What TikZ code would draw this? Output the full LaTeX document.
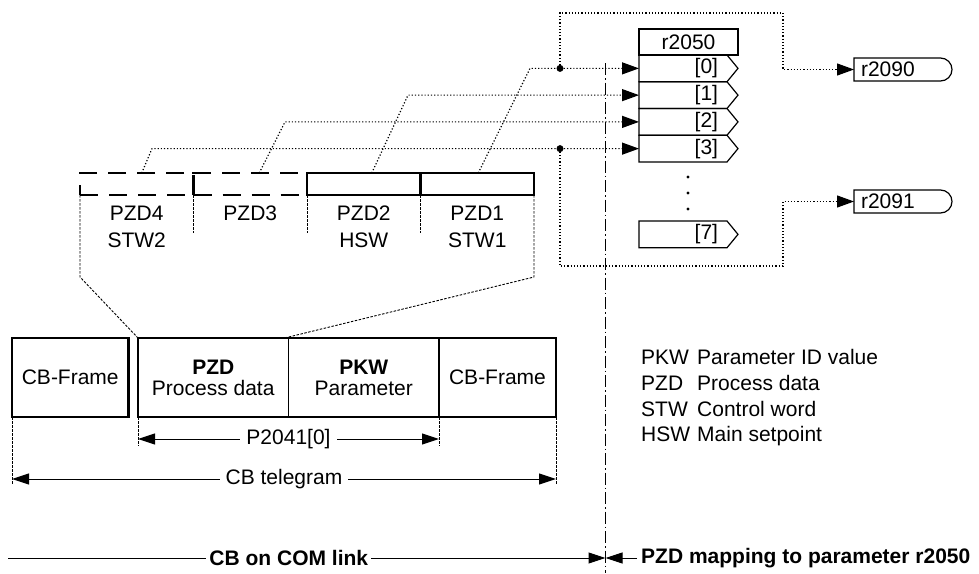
\documentclass[tikz,border=0pt]{standalone}
\usepackage{fontspec}
\setmainfont{Liberation Sans}
\usetikzlibrary{arrows.meta,calc}

\newcommand{\figfont}{\fontsize{21}{24}\selectfont}

\tikzset{
  wordbox/.style={draw,line width=2.4pt,minimum width=113.5,minimum height=22,inner sep=0,outer sep=0,anchor=north west},
  dashword/.style={wordbox,dash pattern=on 18pt off 11pt},
  cellbox/.style={draw,line width=1pt,minimum height=79,inner sep=0,outer sep=0,anchor=north west,align=center},
  rowbox/.style={minimum width=88,minimum height=26.75,inner sep=0,outer sep=0,text width=70,align=right,anchor=north west},
  outbox/.style={minimum height=23,inner xsep=7pt,inner ysep=0,outer sep=0,text width=84,align=left,anchor=west},
  route/.style={line width=1.2pt,dash pattern=on 1.2pt off 2pt},
  guide/.style={line width=0.9pt,dash pattern=on 2.5pt off 1.5pt},
  centreline/.style={line width=1pt,dash pattern=on 12pt off 3pt on 1.5pt off 3pt},
  bigtip/.style={-{Triangle[length=17pt,width=12pt]}},
  dimtips/.style={{Triangle[length=17pt,width=11pt]}-{Triangle[length=17pt,width=11pt]}},
  joint/.style={circle,fill,inner sep=0,minimum size=7}
}

\begin{document}
\begin{tikzpicture}[x=1pt,y=-1pt,font=\figfont]
\useasboundingbox (0,0) rectangle (979,573);

% process data words
\node[dashword] (pzd4) at (80,173) {};
\node[dashword] (pzd3) at (193.5,173) {};
\node[wordbox] (pzd2) at (307,173) {};
\node[wordbox] (pzd1) at (420.5,173) {};
\node[align=center,anchor=base] (pzd4lbl) at ($(pzd4.south)+(0,52.5)$) {PZD4\\[3pt]STW2};
\node[anchor=base] (pzd3lbl) at ($(pzd3.south)+(0,25.5)$) {PZD3};
\node[align=center,anchor=base] (pzd2lbl) at ($(pzd2.south)+(0,52.5)$) {PZD2\\[3pt]HSW};
\node[align=center,anchor=base] (pzd1lbl) at ($(pzd1.south)+(0,52.5)$) {PZD1\\[3pt]STW1};
\foreach \n in {pzd3,pzd2,pzd1}
  \draw[guide] (\n.south west) -- ++(0,38);

% CB telegram
\node[cellbox,line width=2.4pt,minimum width=116.5] (cbleft) at (12,338) {CB-Frame};
\node[cellbox,minimum width=150.5] (pzdcell) at (138,338) {\textbf{PZD}\\[-3pt]Process data};
\node[cellbox,minimum width=150.5] (pkwcell) at (288.5,338) {\textbf{PKW}\\[-3pt]Parameter};
\draw[line width=2.4pt] (pzdcell.north west) rectangle (pkwcell.south east);
\node[cellbox,line width=2.4pt,minimum width=117] (cbright) at (439,338) {CB-Frame};

\draw[guide] (pzd4.south west) -- ++(0,82) -- (pzdcell.north west);
\draw[guide] (pzd1.south east) -- ++(0,82) -- ([xshift=-4pt]pkwcell.north west);

\draw[guide] (cbleft.south west) -- ++(0,68);
\draw[guide] (pzdcell.south west) -- ++(0,29);
\draw[guide] (pkwcell.south east) -- ++(0,29);
\draw[guide] (cbright.south east) -- ++(0,68);
\draw[dimtips,line width=1pt] ([yshift=-22pt]pzdcell.south west) -- node[fill=white,inner xsep=6pt,inner ysep=1pt] (p2041) {P2041[0]} ([yshift=-22pt]pkwcell.south east);
\draw[dimtips,line width=1pt] ([yshift=-62pt]cbleft.south west) -- node[fill=white,inner xsep=6pt,inner ysep=1pt] (cbtel) {CB telegram} ([yshift=-62pt]cbright.south east);

\draw[centreline] (605.5,63) -- (605.5,573);

% r2050
\foreach \i/\y in {0/55,1/81.75,2/108.5,3/135.25,7/221}{
  \node[rowbox] (row\i) at (639,\y) {[\i]};
  \draw[line width=1.2pt] (row\i.north west) -- (row\i.north east) -- ([xshift=11pt]row\i.east) -- (row\i.south east) -- (row\i.south west) -- cycle;
}
\node[draw,line width=2.6pt,minimum width=99,minimum height=26,inner sep=0,outer sep=0,anchor=north west] (r2050) at (639,29) {r2050};
\foreach \y in {177,193,209}
  \fill (688,\y) circle[radius=1.6pt];

\draw[route,bigtip] ([xshift=1pt]pzd1.north) -- ([xshift=-109pt]row0.west) -- (row0.west);
\draw[route,bigtip] ([xshift=8pt]pzd2.north) -- ([xshift=-231pt]row1.west) -- (row1.west);
\draw[route,bigtip] ([xshift=9pt]pzd3.north) -- ([xshift=-354pt]row2.west) -- (row2.west);
\draw[route,bigtip] ([xshift=5pt]pzd4.north) -- ([xshift=-487pt]row3.west) -- (row3.west);
\node[joint] (j0) at ([xshift=-79pt]row0.west) {};
\node[joint] (j3) at ([xshift=-79pt]row3.west) {};

% outputs
\node[outbox] (r2090) at (854,69.5) {r2090};
\node[outbox] (r2091) at (854,201.5) {r2091};
\foreach \n in {r2090,r2091}
  \draw[line width=1.2pt] (\n.north west) -- ([xshift=-11.5pt]\n.north east) arc[start angle=90,end angle=-90,radius=11.5pt] -- (\n.south west) -- cycle;
\coordinate (loopup) at (783,13);
\coordinate (loopdown) at (783,266);
\draw[route,bigtip] (j0.center) |- (loopup) |- (r2090.west);
\draw[route,bigtip] (j3.center) |- (loopdown) |- (r2091.west);

% legend
\foreach \i/\a/\d/\y in {1/PKW/Parameter ID value/364.5,2/PZD/Process data/390.5,3/STW/Control word/416.5,4/HSW/Main setpoint/441.5}{
  \node[anchor=base west,inner sep=0] (abbr\i) at (641,\y) {\a};
  \node[anchor=base west,inner sep=0] (desc\i) at (697,\y) {\d};
}

% bottom line
\coordinate (linkstart) at (8,558);
\coordinate (split) at (605.5,558);
\draw[line width=1pt,-{Triangle[length=17pt,width=11pt]}] (linkstart) -- node[pos=0.47,fill=white,font=\figfont\bfseries] (comlink) {CB on COM link} (split);
\node[anchor=west,font=\figfont\bfseries,inner xsep=4pt] (mapping) at (637,558) {PZD mapping to parameter r2050};
\draw[line width=1pt,-{Triangle[length=17pt,width=11pt]}] (mapping.west) -- (split);
\end{tikzpicture}
\end{document}
